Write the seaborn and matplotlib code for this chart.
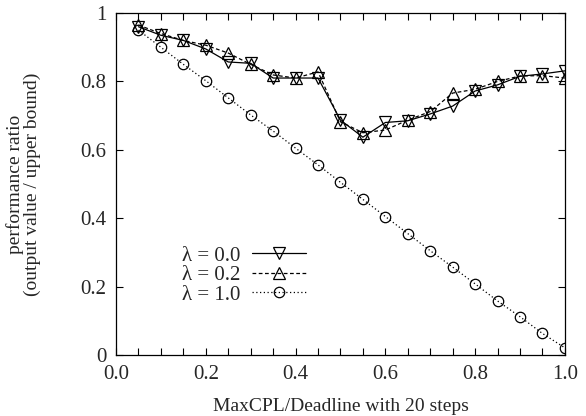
import numpy as np
import pandas as pd
import matplotlib
matplotlib.use("Agg")
import matplotlib.pyplot as plt
import seaborn as sns

# MaxCPL/Deadline steps
steps = [0.05, 0.10, 0.15, 0.20, 0.25, 0.30, 0.35, 0.40, 0.45, 0.50,
         0.55, 0.60, 0.65, 0.70, 0.75, 0.80, 0.85, 0.90, 0.95, 1.00]

ratio_lambda_00 = [0.960, 0.935, 0.920, 0.895, 0.857, 0.853, 0.810, 0.810, 0.810, 0.687,
                   0.637, 0.680, 0.685, 0.705, 0.728, 0.772, 0.790, 0.815, 0.822, 0.831]
ratio_lambda_02 = [0.965, 0.940, 0.920, 0.906, 0.883, 0.850, 0.819, 0.810, 0.828, 0.682,
                   0.650, 0.658, 0.687, 0.712, 0.766, 0.777, 0.800, 0.816, 0.817, 0.810]
ratio_lambda_10 = [0.950, 0.900, 0.850, 0.802, 0.752, 0.702, 0.655, 0.605, 0.556, 0.505,
                   0.455, 0.405, 0.355, 0.305, 0.257, 0.208, 0.158, 0.112, 0.063, 0.021]

series_labels = ["λ = 0.0", "λ = 0.2", "λ = 1.0"]

x_ticks = [0.0, 0.2, 0.4, 0.6, 0.8, 1.0]
x_ticklabels = ["0.0", "0.2", "0.4", "0.6", "0.8", "1.0"]
y_ticks = [0.0, 0.2, 0.4, 0.6, 0.8, 1.0]
y_ticklabels = ["0", "0.2", "0.4", "0.6", "0.8", "1"]

df = pd.DataFrame({
    "step": steps * 3,
    "ratio": ratio_lambda_00 + ratio_lambda_02 + ratio_lambda_10,
    "series": [series_labels[0]] * len(steps) + [series_labels[1]] * len(steps)
              + [series_labels[2]] * len(steps),
})

sns.set_theme(style="ticks")
plt.rcParams["font.family"] = ["Liberation Serif", "DejaVu Serif"]

fig = plt.figure(figsize=(5.86, 4.16), dpi=100)
ax = fig.add_axes([0.198, 0.1466, 0.766, 0.822])

styles = {
    series_labels[0]: dict(marker="v", linestyle="-", markersize=8.5),
    series_labels[1]: dict(marker="^", linestyle=(0, (3, 2)), markersize=8.5),
    series_labels[2]: dict(marker="o", linestyle=(0, (1, 2)), markersize=7.5),
}

for name in series_labels:
    sub = df[df["series"] == name]
    st = styles[name]
    sns.lineplot(data=sub, x="step", y="ratio", ax=ax, color="black",
                 linewidth=0.9, marker=st["marker"], markersize=st["markersize"],
                 markerfacecolor="none", markeredgecolor="black",
                 markeredgewidth=0.9, label=name, linestyle=st["linestyle"])

ax.set_xlim(0, 1)
ax.set_ylim(0, 1)
ax.set_xticks(x_ticks)
ax.set_xticklabels(x_ticklabels)
ax.set_xticks(steps, minor=True)
ax.set_yticks(y_ticks)
ax.set_yticklabels(y_ticklabels)
ax.tick_params(which="both", direction="in", top=True, right=True,
               length=5, width=0.8, labelsize=15, pad=7, color="black")
for s in ax.spines.values():
    s.set_linewidth(0.9)
    s.set_color("black")

ax.set_xlabel("MaxCPL/Deadline with 20 steps", fontsize=14, labelpad=10)
ax.set_ylabel("performance ratio\n(output value / upper bound)", fontsize=14,
              labelpad=28, linespacing=1.0)

leg = ax.legend(loc="upper right", bbox_to_anchor=(0.423, 0.319), frameon=False,
                markerfirst=False, fontsize=15, handlelength=2.6,
                labelspacing=0.0, handletextpad=0.55, borderaxespad=0,
                borderpad=0)

fig.savefig("out.png", dpi=100)
